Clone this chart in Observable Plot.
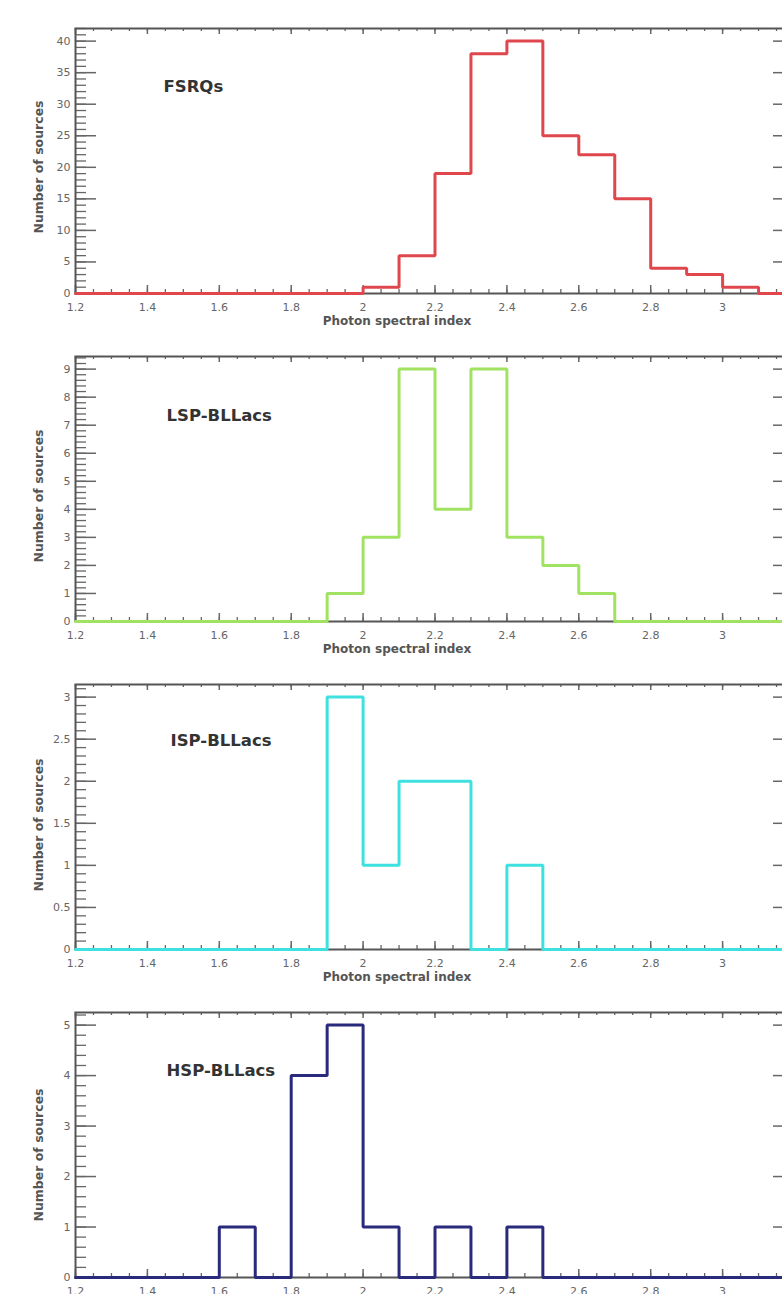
<!DOCTYPE html>
<html>
<head>
<meta charset="utf-8">
<script src="https://cdn.jsdelivr.net/npm/d3@7"></script>
<script src="https://cdn.jsdelivr.net/npm/@observablehq/plot@0.6"></script>
<style>
  html, body { margin: 0; padding: 0; background: #fff; overflow: hidden; }
  #wrap { width: 782px; overflow: hidden; }
  #wrap svg { display: block; max-width: none !important; }
</style>
</head>
<body>
<div id="wrap"></div>
<script>
// ---- data ----
const binStarts = [1.2, 1.3, 1.4, 1.5, 1.6, 1.7, 1.8, 1.9, 2.0, 2.1, 2.2, 2.3, 2.4, 2.5, 2.6, 2.7, 2.8, 2.9, 3.0, 3.1];
const binEnd = 3.2;
const xMajorTicks = [1.2, 1.4, 1.6, 1.8, 2, 2.2, 2.4, 2.6, 2.8, 3, 3.2];
const xTickLabels = [1.2, 1.4, 1.6, 1.8, 2, 2.2, 2.4, 2.6, 2.8, 3];

const panelNames = ["FSRQs", "LSP-BLLacs", "ISP-BLLacs", "HSP-BLLacs"];
const panelColors = ["#e0474c", "#a2e262", "#3fe0e0", "#2a2a7c"];

const fsrqCounts = [0, 0, 0, 0, 0, 0, 0, 0, 1, 6, 19, 38, 40, 25, 22, 15, 4, 3, 1, 0];
const lspCounts  = [0, 0, 0, 0, 0, 0, 0, 1, 3, 9, 4, 9, 3, 2, 1, 0, 0, 0, 0, 0];
const ispCounts  = [0, 0, 0, 0, 0, 0, 0, 3, 1, 2, 2, 0, 1, 0, 0, 0, 0, 0, 0, 0];
const hspCounts  = [0, 0, 0, 0, 1, 0, 4, 5, 1, 0, 1, 0, 1, 0, 0, 0, 0, 0, 0, 0];

const fsrqYTicks = [0, 5, 10, 15, 20, 25, 30, 35, 40];
const lspYTicks  = [0, 1, 2, 3, 4, 5, 6, 7, 8, 9];
const ispYTicks  = [0, 0.5, 1, 1.5, 2, 2.5, 3];
const hspYTicks  = [0, 1, 2, 3, 4, 5];

const yMaxes = [42, 9.45, 3.15, 5.25];
const yMinorSteps = [1, 0.2, 0.1, 0.2];

const xLabel = "Photon spectral index";
const yLabel = "Number of sources";

// ---- layout ----
const W = 800, H = 328;
const mL = 75, mR = 6, mT = 28, mB = 35;
const plotW = W - mL - mR, plotH = H - mT - mB;
const frameColor = "#555";
const tickColor = "#666";
const labelLeft = [88, 91, 95, 91];
const labelDy = [52, 52.5, 49.5, 51.5];
const yLabelDy = [6, 7, 8, 10];

const countsAll = [fsrqCounts, lspCounts, ispCounts, hspCounts];
const yTicksAll = [fsrqYTicks, lspYTicks, ispYTicks, hspYTicks];

const xMinor = d3.range(1.2, 3.2001, 0.05).map(v => +v.toFixed(2));

countsAll.forEach((counts, p) => {
  const pts = binStarts.map((b, i) => ({x: b, y: counts[i]}));
  pts.push({x: binEnd, y: counts[counts.length - 1]});
  const yMinor = d3.range(0, yMaxes[p] + 1e-9, yMinorSteps[p]).map(v => +v.toFixed(3));
  const yMajor = yTicksAll[p];

  const chart = Plot.plot({
    width: W, height: H,
    marginLeft: mL, marginRight: mR, marginTop: mT, marginBottom: mB,
    style: {fontFamily: "DejaVu Sans, sans-serif", background: "#fff", maxWidth: "none"},
    x: {domain: [1.2, 3.2]},
    y: {domain: [0, yMaxes[p]]},
    marks: [
      // minor / major ticks, x (bottom & top)
      Plot.ruleX(xMinor, {x: d => d, insetTop: plotH - 4, stroke: tickColor, strokeWidth: 1.3}),
      Plot.ruleX(xMinor, {x: d => d, insetBottom: plotH - 3, stroke: tickColor, strokeWidth: 1.3}),
      Plot.ruleX(xMajorTicks, {x: d => d, insetTop: plotH - 8, stroke: tickColor, strokeWidth: 1.5}),
      Plot.ruleX(xMajorTicks, {x: d => d, insetBottom: plotH - 6, stroke: tickColor, strokeWidth: 1.5}),
      // minor / major ticks, y (left & right)
      Plot.ruleY(yMinor, {y: d => d, insetRight: plotW - 11, stroke: tickColor, strokeWidth: 1.3}),
      Plot.ruleY(yMinor, {y: d => d, insetLeft: plotW - 11, stroke: tickColor, strokeWidth: 1.3}),
      Plot.ruleY(yMajor, {y: d => d, insetRight: plotW - 21, stroke: tickColor, strokeWidth: 1.5}),
      Plot.ruleY(yMajor, {y: d => d, insetLeft: plotW - 21, stroke: tickColor, strokeWidth: 1.5}),
      Plot.frame({stroke: frameColor, strokeWidth: 2}),
      Plot.axisX({ticks: xTickLabels, tickSize: 0, tickPadding: 10, tickFormat: d => String(d), label: null, fill: tickColor, fontSize: 11}),
      Plot.axisY({ticks: yMajor, tickSize: 0, tickPadding: 5, tickFormat: d => String(d), label: null, fill: tickColor, fontSize: 11}),
      Plot.line(pts, {x: "x", y: "y", curve: "step-after", stroke: panelColors[p], strokeWidth: 3, strokeLinejoin: "miter"}),
      Plot.text([xLabel], {frameAnchor: "bottom", dx: -38, dy: 31, fontSize: 12, fontWeight: "bold", fill: "#555"}),
      Plot.text([yLabel], {frameAnchor: "left", textAnchor: "middle", rotate: -90, dx: -37, dy: yLabelDy[p], fontSize: 12.5, fontWeight: "bold", fill: "#555"}),
      Plot.text([panelNames[p]], {frameAnchor: "top-left", textAnchor: "start", dx: labelLeft[p], dy: labelDy[p], fontSize: 16.5, fontWeight: "bold", fill: "#333"})
    ]
  });
  document.getElementById("wrap").appendChild(chart);
});
</script>
</body>
</html>
